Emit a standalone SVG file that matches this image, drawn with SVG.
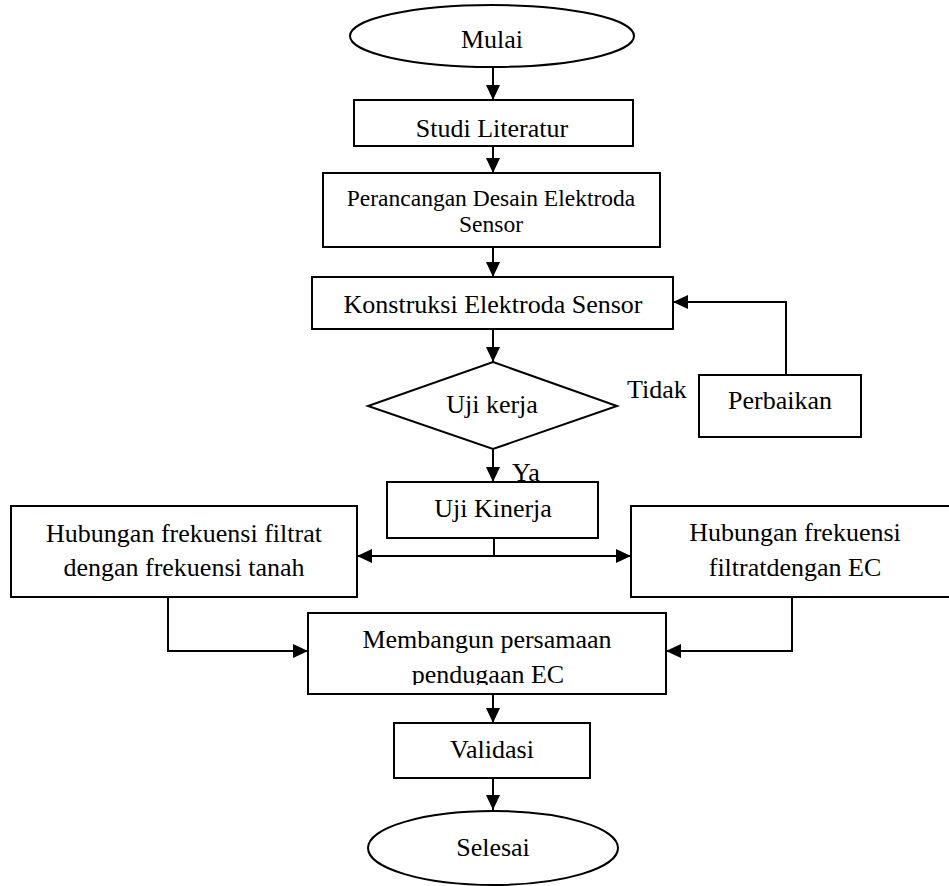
<svg xmlns="http://www.w3.org/2000/svg" width="949" height="886" viewBox="0 0 949 886">
<style>
.box{fill:#fff;stroke:#000;stroke-width:2}
.t{font-family:"Liberation Serif","Times New Roman",serif;font-size:26px;fill:#000;text-anchor:middle}
.s{font-size:23.5px}
.l{text-anchor:start}
.c{fill:none;stroke:#000;stroke-width:2}
</style>
<defs>
<marker id="ah" markerUnits="userSpaceOnUse" markerWidth="16" markerHeight="14" refX="15" refY="7" orient="auto">
<path d="M0,0 L15,7 L0,14 Z" fill="#000"/>
</marker>
<marker id="ahs" markerUnits="userSpaceOnUse" markerWidth="16" markerHeight="14" refX="0" refY="7" orient="auto">
<path d="M15,0 L0,7 L15,14 Z" fill="#000"/>
</marker>
<clipPath id="clipM"><rect x="300" y="600" width="380" height="85"/></clipPath>
</defs>
<g id="connectors">
<line class="c" x1="493" y1="67" x2="493" y2="100" marker-end="url(#ah)"/>
<line class="c" x1="493" y1="146" x2="493" y2="173" marker-end="url(#ah)"/>
<line class="c" x1="493" y1="247" x2="493" y2="277" marker-end="url(#ah)"/>
<line class="c" x1="493" y1="329" x2="493" y2="362" marker-end="url(#ah)"/>
<polyline class="c" points="786,375 786,302 673,302" marker-end="url(#ah)"/>
<line class="c" x1="493" y1="449" x2="493" y2="482" marker-end="url(#ah)"/>
<line class="c" x1="494" y1="538" x2="494" y2="556"/>
<line class="c" x1="357" y1="556" x2="631" y2="556" marker-start="url(#ahs)" marker-end="url(#ah)"/>
<polyline class="c" points="168,597 168,651 308,651" marker-end="url(#ah)"/>
<polyline class="c" points="792,597 792,651 666,651" marker-end="url(#ah)"/>
<line class="c" x1="493" y1="694" x2="493" y2="723" marker-end="url(#ah)"/>
<line class="c" x1="493" y1="778" x2="493" y2="810" marker-end="url(#ah)"/>
</g>
<g id="mulai">
<ellipse class="box" cx="492" cy="36" rx="142" ry="31"/>
<text class="t" x="492" y="48">Mulai</text>
</g>
<g id="studi">
<rect class="box" x="354" y="100" width="279" height="46"/>
<text class="t" x="492" y="137">Studi Literatur</text>
</g>
<g id="perancangan">
<rect class="box" x="323" y="173" width="337" height="74"/>
<text class="t s" x="491" y="206">Perancangan Desain Elektroda</text>
<text class="t s" x="491" y="232">Sensor</text>
</g>
<g id="konstruksi">
<rect class="box" x="312" y="277" width="361" height="52"/>
<text class="t" x="493" y="313">Konstruksi Elektroda Sensor</text>
</g>
<g id="ujikerja">
<polygon class="box" points="493,362 617,406 493,449 368,406"/>
<text class="t" x="492" y="413">Uji kerja</text>
</g>
<g id="tidak-label">
<text class="t l" x="627" y="398">Tidak</text>
</g>
<g id="perbaikan">
<rect class="box" x="699" y="375" width="162" height="62"/>
<text class="t" x="780" y="409">Perbaikan</text>
</g>
<g id="ya-label">
<text class="t l" x="512" y="481">Ya</text>
</g>
<g id="ujikinerja">
<rect class="box" x="387" y="482" width="211" height="56"/>
<text class="t" x="493" y="517">Uji Kinerja</text>
</g>
<g id="hub-tanah">
<rect class="box" x="11" y="506" width="346" height="91"/>
<text class="t" x="184" y="542">Hubungan frekuensi filtrat</text>
<text class="t" x="184" y="576">dengan frekuensi tanah</text>
</g>
<g id="hub-ec">
<rect class="box" x="631" y="506" width="330" height="91"/>
<text class="t" x="795" y="541">Hubungan frekuensi</text>
<text class="t" x="795" y="576">filtratdengan EC</text>
</g>
<g id="membangun">
<rect class="box" x="308" y="613" width="358" height="81"/>
<g clip-path="url(#clipM)">
<text class="t" x="487" y="648">Membangun persamaan</text>
<text class="t" x="488" y="683">pendugaan EC</text>
</g>
</g>
<g id="validasi">
<rect class="box" x="394" y="723" width="196" height="55"/>
<text class="t" x="492" y="758">Validasi</text>
</g>
<g id="selesai">
<ellipse class="box" cx="493" cy="848" rx="125" ry="37"/>
<text class="t" x="493" y="856">Selesai</text>
</g>
</svg>
